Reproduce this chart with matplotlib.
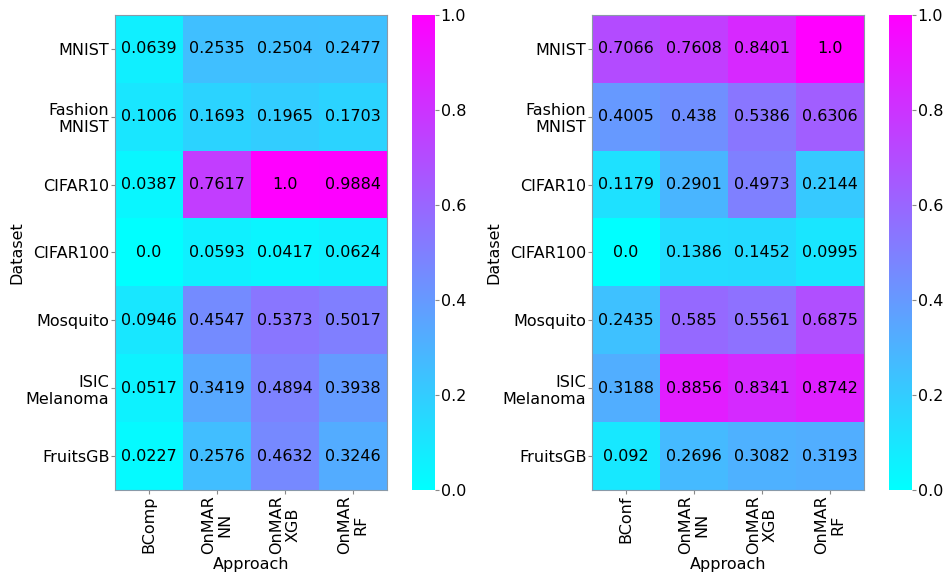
import matplotlib.pyplot as plt
import numpy as np

datasets = ['MNIST', 'Fashion\nMNIST', 'CIFAR10', 'CIFAR100', 'Mosquito', 'ISIC\nMelanoma', 'FruitsGB']
approaches_left = ['BComp', 'OnMAR\nNN', 'OnMAR\nXGB', 'OnMAR\nRF']
approaches_right = ['BConf', 'OnMAR\nNN', 'OnMAR\nXGB', 'OnMAR\nRF']

values_left = [
    [0.0639, 0.2535, 0.2504, 0.2477],
    [0.1006, 0.1693, 0.1965, 0.1703],
    [0.0387, 0.7617, 1.0, 0.9884],
    [0.0, 0.0593, 0.0417, 0.0624],
    [0.0946, 0.4547, 0.5373, 0.5017],
    [0.0517, 0.3419, 0.4894, 0.3938],
    [0.0227, 0.2576, 0.4632, 0.3246],
]
values_right = [
    [0.7066, 0.7608, 0.8401, 1.0],
    [0.4005, 0.438, 0.5386, 0.6306],
    [0.1179, 0.2901, 0.4973, 0.2144],
    [0.0, 0.1386, 0.1452, 0.0995],
    [0.2435, 0.585, 0.5561, 0.6875],
    [0.3188, 0.8856, 0.8341, 0.8742],
    [0.092, 0.2696, 0.3082, 0.3193],
]

fs = 11.5
fig = plt.figure(figsize=(9.43, 5.77), dpi=100)


def draw_heatmap(ax_pos, cb_pos, values, xlabels):
    data = np.array(values)
    ax = fig.add_axes(ax_pos)
    im = ax.imshow(data, cmap='cool', vmin=0, vmax=1, aspect='auto')
    for i in range(data.shape[0]):
        for j in range(data.shape[1]):
            ax.text(j, i, f'{values[i][j]}', ha='center', va='center',
                    fontsize=fs, color='black')
    ax.set_xticks(range(len(xlabels)))
    ax.set_xticklabels(xlabels, rotation=90, fontsize=fs, linespacing=1.1)
    ax.set_yticks(range(len(datasets)))
    ax.set_yticklabels(datasets, fontsize=fs, linespacing=1.15)
    ax.set_xlabel('Approach', fontsize=fs, labelpad=2)
    ax.set_ylabel('Dataset', fontsize=fs, labelpad=1)
    ax.tick_params(color='#888888', length=3, pad=1)
    for sp in ax.spines.values():
        sp.set_color('#8a9aa8')
        sp.set_linewidth(0.8)

    cax = fig.add_axes(cb_pos)
    cb = fig.colorbar(im, cax=cax)
    cb.outline.set_visible(False)
    cb.set_ticks([0.0, 0.2, 0.4, 0.6, 0.8, 1.0])
    cax.tick_params(labelsize=fs, color='#888888', length=3, pad=1)
    return ax


draw_heatmap([0.122, 0.1508, 0.2884, 0.8232], [0.4369, 0.1508, 0.0244, 0.8232],
             values_left, approaches_left)
draw_heatmap([0.6278, 0.1508, 0.2884, 0.8232], [0.9427, 0.1508, 0.0244, 0.8232],
             values_right, approaches_right)

plt.savefig('out.png', dpi=100)
